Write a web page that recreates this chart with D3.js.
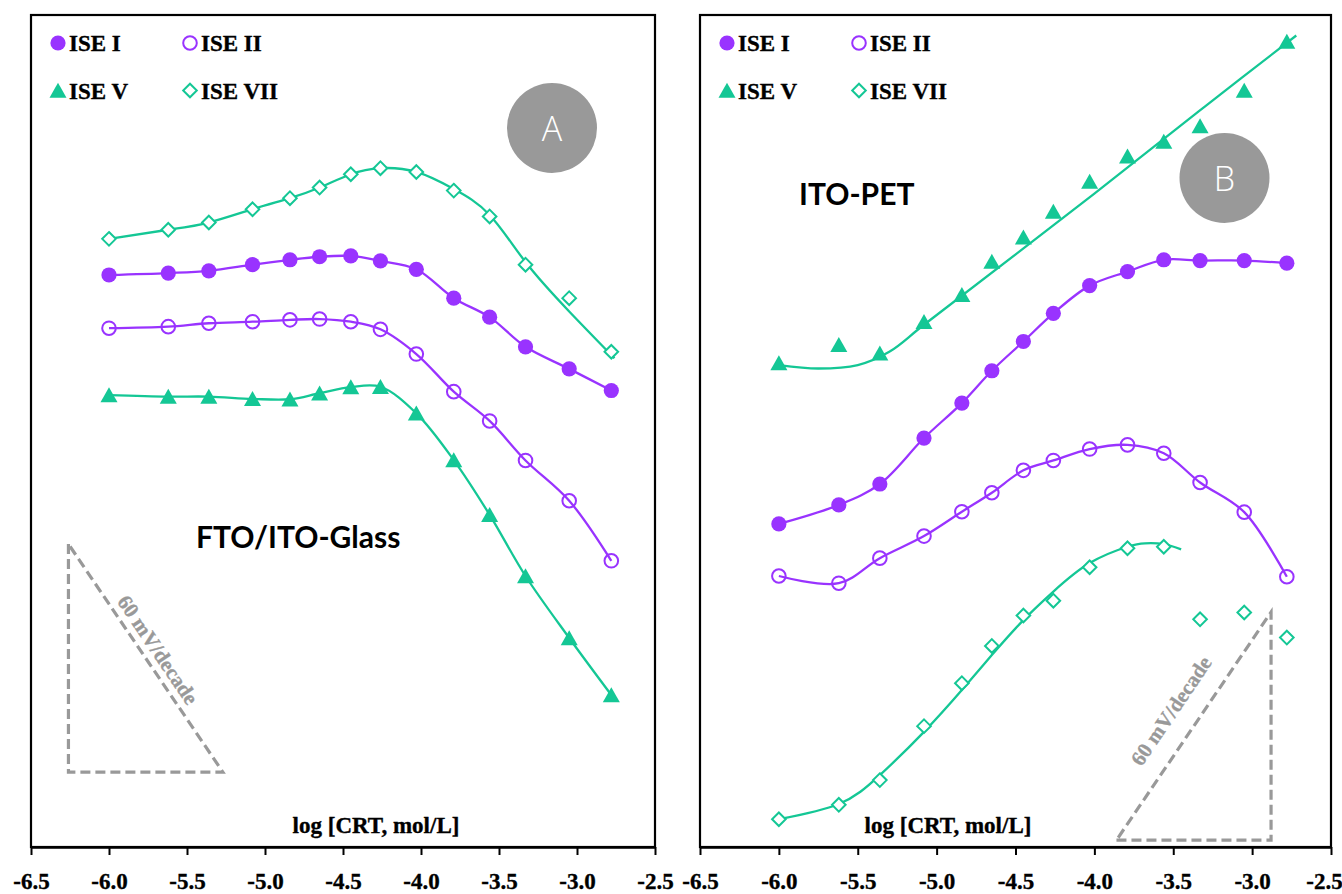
<!DOCTYPE html>
<html>
<head>
<meta charset="utf-8">
<script src="https://cdn.jsdelivr.net/npm/d3@7"></script>
<style>
  html, body { margin: 0; padding: 0; background: #fff; }
  svg { display: block; }
</style>
</head>
<body>
<svg id="chart" width="1342" height="894"></svg>
<script>
// ---------------- DATA ----------------
const logC = [-6.0, -5.62, -5.36, -5.08, -4.84, -4.65, -4.45, -4.26, -4.03, -3.79, -3.56, -3.33, -3.05, -2.78];
const xTicks = [-6.5, -6.0, -5.5, -5.0, -4.5, -4.0, -3.5, -3.0, -2.5];
const seriesNames = ["ISE I", "ISE II", "ISE V", "ISE VII"];

// Panel A : FTO/ITO-Glass  (relative potential, mV)
const glassI   = [150.5, 151.0, 151.6, 153.2, 154.5, 155.3, 155.5, 154.2, 152.0, 144.4, 139.4, 131.6, 125.8, 120.1];
const glassII  = [136.5, 136.9, 137.8, 138.2, 138.7, 138.9, 138.2, 136.2, 129.7, 119.8, 112.1, 101.7, 91.1, 75.3];
const glassV   = [118.9, 118.5, 118.5, 117.9, 117.8, 119.4, 121.0, 121.1, 114.1, 101.8, 87.4, 71.3, 55.0, 40.0];
const glassVII = [160.0, 162.4, 164.3, 167.8, 170.7, 173.5, 177.0, 178.6, 177.6, 172.7, 165.9, 153.2, 144.4, 130.3];
const glassVIIFitX = [-6.0, -5.62, -5.36, -5.08, -4.84, -4.65, -4.45, -4.26, -4.03, -3.79, -3.56, -3.33, -3.05, -2.76];
const glassVIIFitY = [160.0, 162.4, 164.3, 167.8, 170.7, 173.5, 177.0, 178.6, 177.6, 173.1, 166.3, 153.9, 140.9, 128.6];

// Panel B : ITO-PET
const petI   = [85.0, 90.0, 95.5, 107.6, 116.8, 125.3, 133.0, 140.4, 147.7, 151.4, 154.5, 154.3, 154.3, 153.6];
const petII  = [71.3, 69.4, 76.0, 81.8, 88.2, 93.2, 99.1, 101.7, 104.7, 105.8, 103.6, 95.9, 88.1, 71.1];
const petV   = [127.3, 132.1, 129.9, 138.2, 145.3, 154.0, 160.4, 167.2, 175.1, 181.7, 185.6, 189.7, 199.0, 211.9];
const petVII = [7.3, 11.1, 17.6, 31.8, 43.1, 52.9, 60.9, 64.8, 73.6, 78.6, 79.0, 59.9, 61.7, 55.1];
const petVFitX = [-6.0, -5.75, -5.5, -5.3, -5.08, -4.0, -3.3, -2.72];
const petVFitY = [126.8, 125.9, 126.8, 130.3, 137.4, 171.9, 194.8, 213.5];
const petVIIFitX = [-6.0, -5.62, -5.36, -5.08, -4.84, -4.65, -4.45, -4.26, -4.03, -3.79, -3.68, -3.56, -3.45];
const petVIIFitY = [7.3, 11.3, 18.9, 30.3, 41.3, 50.5, 59.7, 67.2, 74.7, 79.0, 79.9, 79.7, 78.3];

// 60 mV/decade guide triangles: [x of left end, x of right end, base potential]
const slopeA = [-6.26, -5.27, 19.7];
const slopeB = [-3.86, -2.88, 1.8];
const slopeRise = 60;

// ---------------- STYLE ----------------
const PURPLE = "#9933ff";
const GREEN = "#14c795";
const GREY = "#999999";
const SERIF = "'Liberation Serif', 'Times New Roman', serif";

const svg = d3.select("#chart");
svg.append("rect").attr("width", 1342).attr("height", 894).attr("fill", "#fff");

const yScale = d3.scaleLinear().domain([0, 218.9]).range([847, 15]);

function zip(xs, ys) { return xs.map((x, i) => [x, ys[i]]); }

function heavy(sel, color) {
  return sel.attr("font-family", SERIF).attr("font-weight", "bold")
    .attr("fill", color).attr("stroke", color).attr("stroke-width", 0.35);
}

function drawMarker(g, type, cx, cy) {
  if (type === "circleFilled") {
    g.append("circle").attr("cx", cx).attr("cy", cy).attr("r", 7.6).attr("fill", PURPLE);
  } else if (type === "circleOpen") {
    g.append("circle").attr("cx", cx).attr("cy", cy).attr("r", 6.8)
      .attr("fill", "none").attr("stroke", PURPLE).attr("stroke-width", 2);
  } else if (type === "triangle") {
    g.append("path").attr("d", `M${cx},${cy - 7.8}L${cx + 8.5},${cy + 7.2}L${cx - 8.5},${cy + 7.2}Z`)
      .attr("fill", GREEN);
  } else if (type === "diamond") {
    g.append("path").attr("d", `M${cx},${cy - 6.8}L${cx + 6.8},${cy}L${cx},${cy + 6.8}L${cx - 6.8},${cy}Z`)
      .attr("fill", "#fff").attr("stroke", GREEN).attr("stroke-width", 2);
  }
}

function panel(opts) {
  const x = d3.scaleLinear().domain([-6.5, -2.5]).range(opts.range);
  const g = svg.append("g");
  const line = d3.line().x(d => x(d[0])).y(d => yScale(d[1])).curve(d3.curveCatmullRom.alpha(0.5));
  const fitLine = d3.line().x(d => x(d[0])).y(d => yScale(d[1])).curve(d3.curveNatural);

  // frame
  g.append("rect").attr("x", opts.range[0]).attr("y", 15)
    .attr("width", opts.range[1] - opts.range[0]).attr("height", 832)
    .attr("fill", "none").attr("stroke", "#000").attr("stroke-width", 2.2);

  // axis
  const axis = d3.axisBottom(x).tickValues(xTicks).tickSize(8).tickSizeOuter(0)
    .tickPadding(18).tickFormat(d => d.toFixed(1));
  const ax = g.append("g").attr("transform", "translate(0,847)").call(axis);
  ax.select(".domain").attr("stroke-width", 2.4);
  ax.selectAll(".tick line").attr("stroke-width", 2);
  heavy(ax.selectAll(".tick text"), "#000").attr("font-size", 23)
    .attr("dx", d => (opts.lastShift && d === -2.5) ? opts.lastShift : 0);

  // guide triangle
  const s = opts.slope;
  const base = yScale(s[2]), top = yScale(s[2] + slopeRise);
  const xl = x(s[0]), xr = x(s[1]);
  let pts, hyp;
  if (opts.slopeDir === "down") {
    pts = [[xl, top], [xl, base], [xr, base]];
    hyp = [[xl, top], [xr, base]];
  } else {
    pts = [[xl, base], [xr, base], [xr, top]];
    hyp = [[xl, base], [xr, top]];
  }
  g.append("path").attr("d", "M" + pts.map(p => p.join(",")).join("L") + "Z")
    .attr("fill", "none").attr("stroke", GREY).attr("stroke-width", 3.2)
    .attr("stroke-dasharray", "10,5");
  const ang = Math.atan2(hyp[1][1] - hyp[0][1], hyp[1][0] - hyp[0][0]);
  const mx = (hyp[0][0] + hyp[1][0]) / 2, my = (hyp[0][1] + hyp[1][1]) / 2;
  const ux = Math.sin(ang), uy = -Math.cos(ang);
  const tx = mx + ux * opts.textOff, ty = my + uy * opts.textOff;
  heavy(g.append("text"), GREY)
    .attr("transform", `translate(${tx},${ty}) rotate(${ang * 180 / Math.PI})`)
    .attr("text-anchor", "middle").attr("dy", "0.35em")
    .attr("font-size", 21).text("60 mV/decade");

  // label circle
  g.append("circle").attr("cx", opts.range[0] + opts.badge[0]).attr("cy", opts.badge[1]).attr("r", 45)
    .attr("fill", "#999999");
  g.append("text").attr("x", opts.range[0] + opts.badge[0]).attr("y", opts.badge[1] + 12.5)
    .attr("text-anchor", "middle").attr("font-family", "'Open Sans', sans-serif")
    .attr("font-weight", 300).attr("font-size", 34).attr("fill", "#fff").text(opts.letter);

  // substrate label
  g.append("text").attr("x", opts.title[0]).attr("y", opts.title[1])
    .attr("font-family", "Lato, sans-serif").attr("font-weight", 700)
    .attr("font-size", 30).attr("fill", "#000").text(opts.titleText);

  // x-axis title
  heavy(g.append("text"), "#000").attr("x", opts.xTitle).attr("y", 833).attr("text-anchor", "middle")
    .attr("font-size", 23).text("log [CRT, mol/L]");

  // curves
  opts.curves.forEach(c => {
    g.append("path").attr("d", (c.fit ? fitLine : line)(c.pts)).attr("fill", "none")
      .attr("stroke", c.color).attr("stroke-width", 2.3);
  });
  // markers
  opts.series.forEach(sr => {
    sr.vals.forEach((v, i) => drawMarker(g, sr.type, x(logC[i]), yScale(v)));
  });

  // legend
  const types = ["circleFilled", "circleOpen", "triangle", "diamond"];
  seriesNames.forEach((name, i) => {
    const col = i % 2, row = Math.floor(i / 2);
    const mx0 = opts.range[0] + 27 + col * 132;
    const my0 = 43 + row * 47.5;
    drawMarker(g, types[i], mx0, my0);
    heavy(g.append("text"), "#000").attr("x", mx0 + 11).attr("y", my0 + 8)
      .attr("font-size", 23).text(name);
  });
}

panel({
  range: [31, 655],
  slope: slopeA, slopeDir: "down", textOff: 15,
  badge: [521, 128], letter: "A",
  title: [196, 548], titleText: "FTO/ITO-Glass",
  xTitle: 376,
  curves: [
    { pts: zip(glassVIIFitX, glassVIIFitY), color: GREEN, fit: true },
    { pts: zip(logC, glassI), color: PURPLE },
    { pts: zip(logC, glassII), color: PURPLE },
    { pts: zip(logC, glassV), color: GREEN }
  ],
  series: [
    { vals: glassVII, type: "diamond" },
    { vals: glassI, type: "circleFilled" },
    { vals: glassII, type: "circleOpen" },
    { vals: glassV, type: "triangle" }
  ]
});

panel({
  range: [700, 1331],
  slope: slopeB, slopeDir: "up", textOff: 27.5,
  badge: [524.5, 178], letter: "B",
  title: [799, 205], titleText: "ITO-PET",
  xTitle: 948,
  lastShift: -7,
  curves: [
    { pts: zip(petVFitX, petVFitY), color: GREEN },
    { pts: zip(logC, petI), color: PURPLE },
    { pts: zip(logC, petII), color: PURPLE },
    { pts: zip(petVIIFitX, petVIIFitY), color: GREEN, fit: true }
  ],
  series: [
    { vals: petV, type: "triangle" },
    { vals: petI, type: "circleFilled" },
    { vals: petII, type: "circleOpen" },
    { vals: petVII, type: "diamond" }
  ]
});
</script>
</body>
</html>
